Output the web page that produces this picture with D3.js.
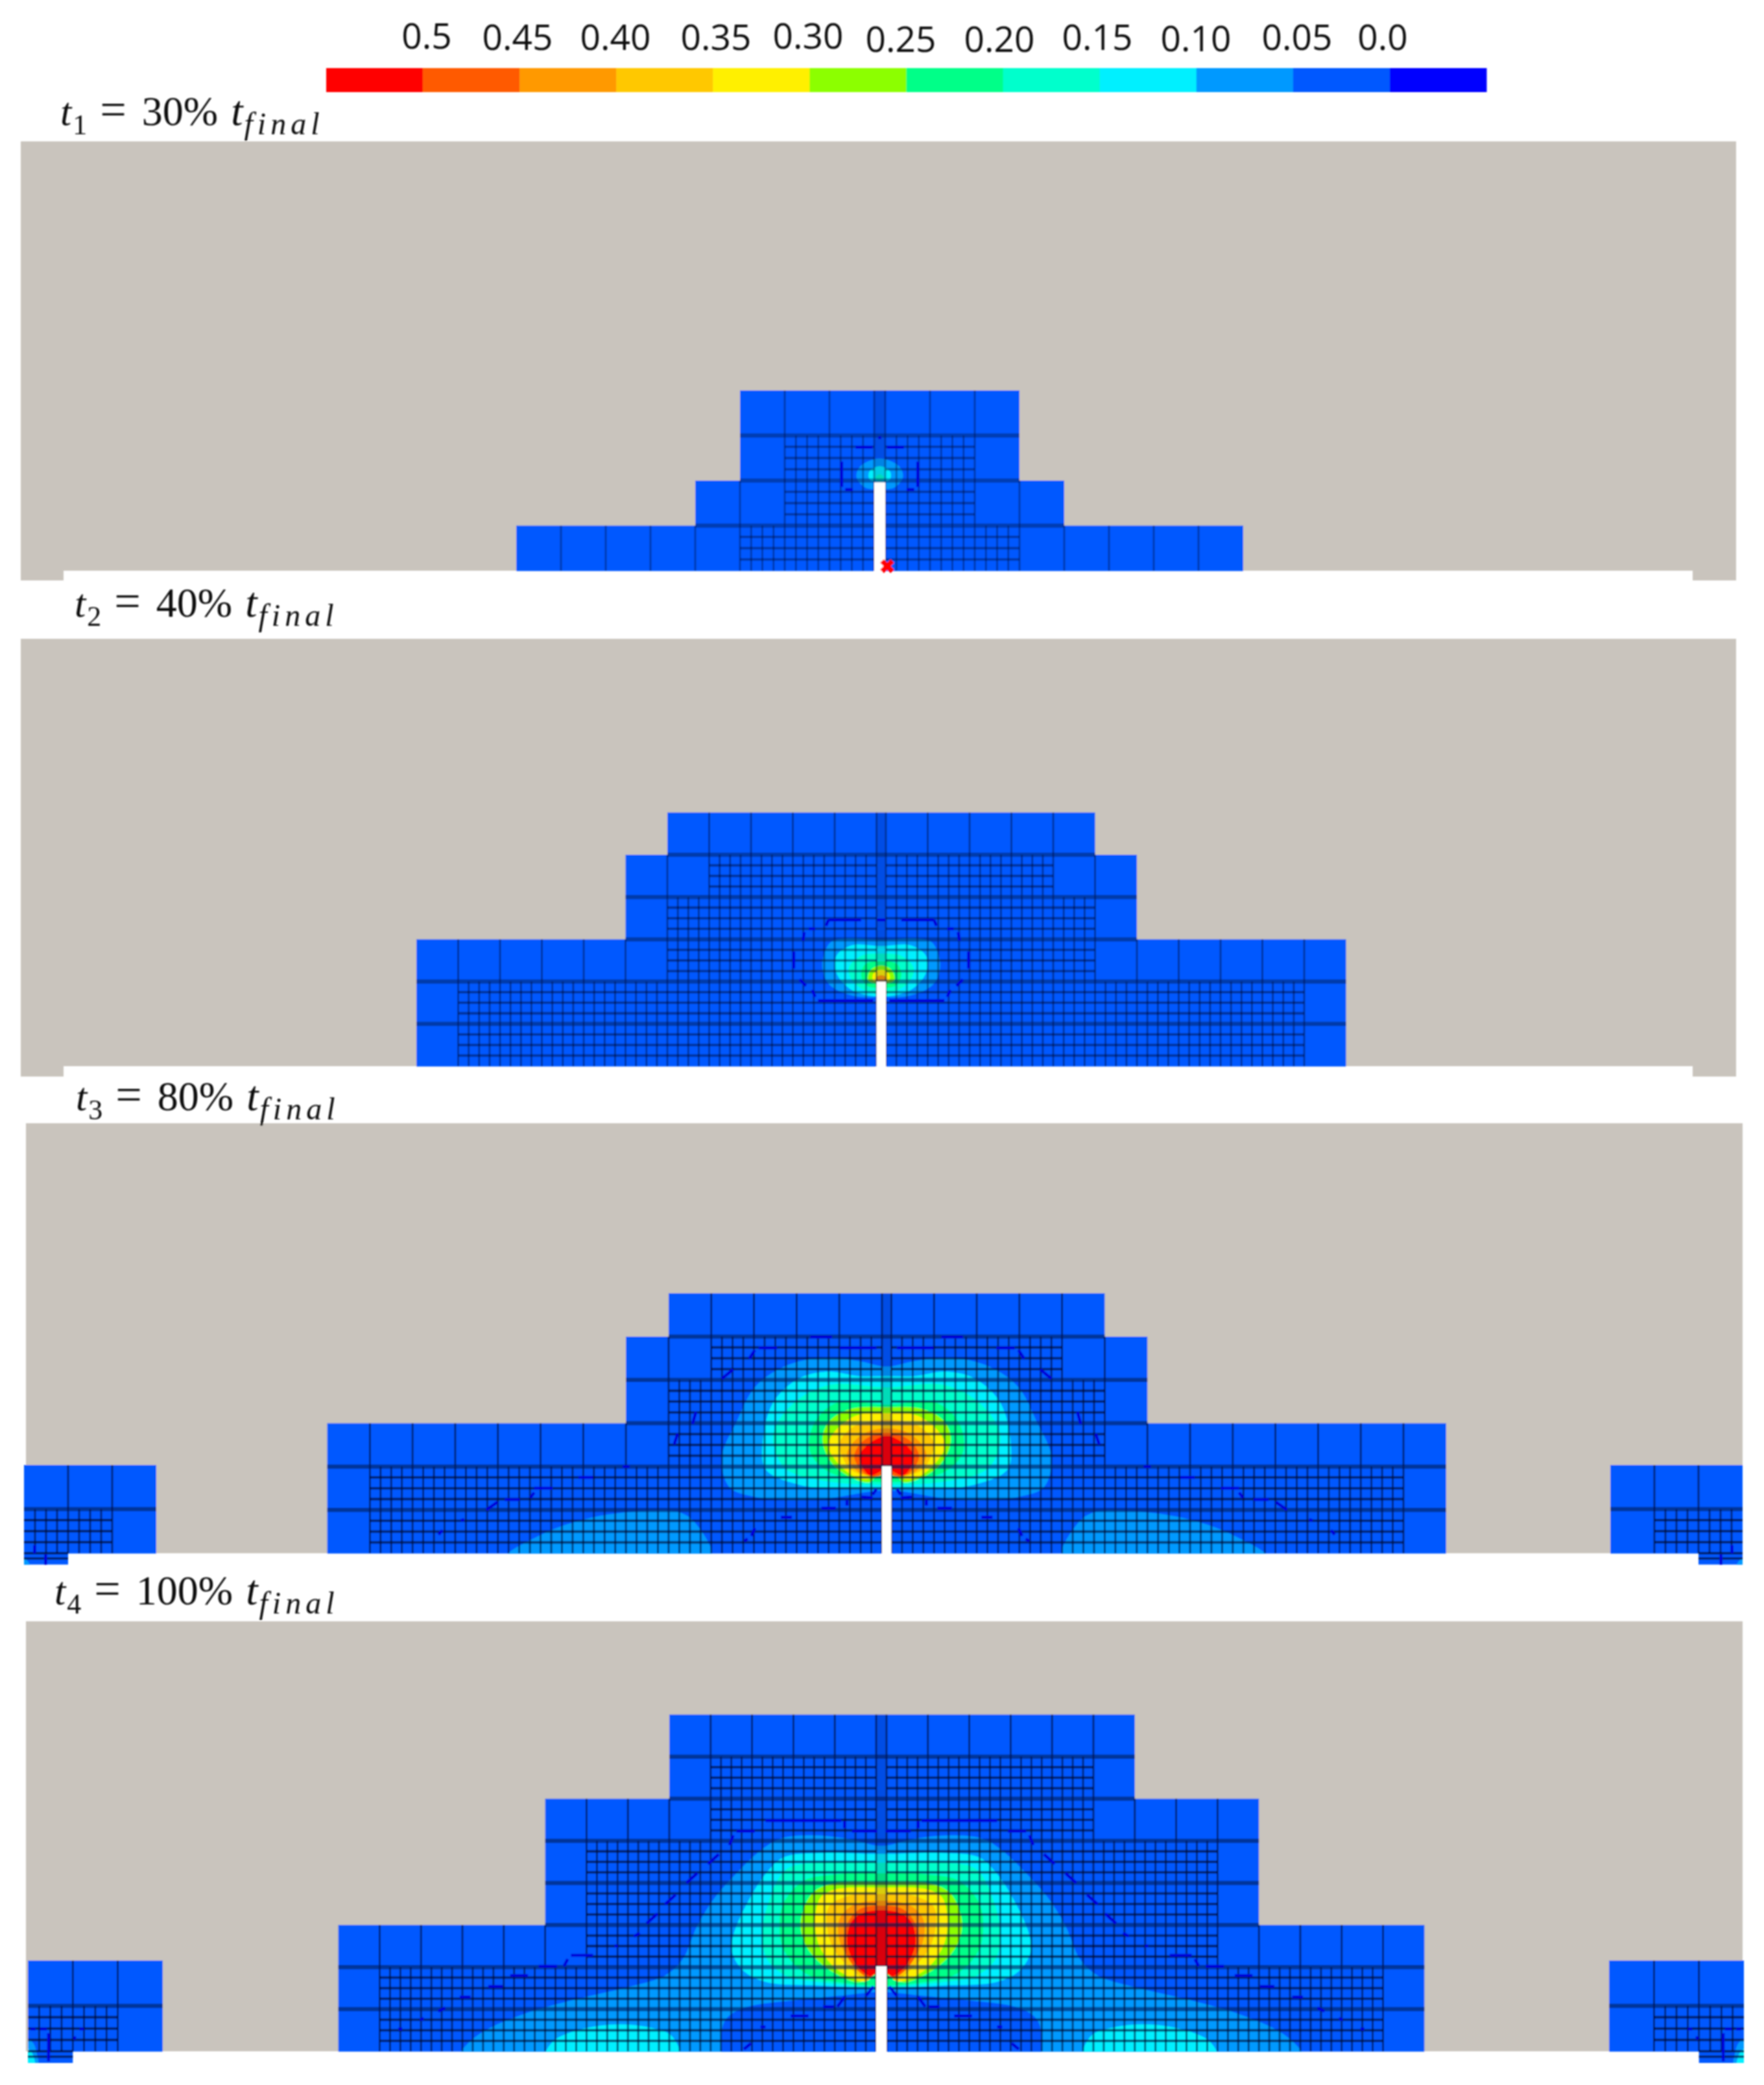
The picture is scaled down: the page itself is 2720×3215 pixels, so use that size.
<!DOCTYPE html>
<html>
<head>
<meta charset="utf-8">
<script src="https://cdn.jsdelivr.net/npm/d3@7/dist/d3.min.js"></script>
<style>
    html, body { margin: 0; padding: 0; background: #fff; }
    svg { display: block; }
</style>
</head>
<body>
<div id="chart"></div>
<script>
// legend
var legendLabels = ['0.5', '0.45', '0.40', '0.35', '0.30', '0.25', '0.20', '0.15', '0.10', '0.05', '0.0'];
var bandColors = ['#ff0000', '#ff5a00', '#ff9900', '#ffc800', '#fff000', '#8cff00',
                  '#00ff88', '#00ffcc', '#00f0ff', '#0099ff', '#0059ff', '#0000ff'];

// time labels
var timeSubs = ['1', '2', '3', '4'];
var timePercents = ['30%', '40%', '80%', '100%'];

// mesh per panel, rows from the top: width in coarse cells and width of the refined part, each side of the crack
var outerLeft = [
    [3, 3, 4, 8],
    [5, 6, 6, 11, 11, 11],
    [5, 6, 6, 13, 13, 13],
    [5, 5, 8, 8, 8, 13, 13, 13]
];
var outerRight = [
    [3, 3, 4, 8],
    [5, 6, 6, 11, 11, 11],
    [5, 6, 6, 13, 13, 13],
    [6, 6, 9, 9, 9, 13, 13, 13]
];
var fineLeft = [
    [0, 2, 2, 3],
    [0, 4, 5, 5, 10, 10],
    [0, 4, 5, 5, 12, 12],
    [0, 4, 4, 7, 7, 7, 12, 12]
];
var fineRight = [
    [0, 2, 2, 3],
    [0, 4, 5, 5, 10, 10],
    [0, 4, 5, 5, 12, 12],
    [0, 5, 5, 8, 8, 8, 12, 12]
];

// contours: [band, right half outline] in cell units (across, above the bottom edge)
var contours1 = [
    [9, [[0, 2.49], [.43, 2.32], [.52, 2.08], [.32, 1.84], [0, 1.81]]],
    [8, [[0, 2.32], [.23, 2.2], [.23, 2.03], [0, 1.96]]],
    [7, [[0, 2.14], [.1, 2.06], [0, 1.98]]]
];
var contours2 = [
    [9, [[0, 2.99], [.85, 3.02], [1.22, 2.92], [1.41, 2.41], [1.26, 1.95], [.7, 1.67], [0, 1.63]]],
    [8, [[0, 2.84], [.7, 2.86], [1.07, 2.61], [1.07, 2.2], [.7, 1.8], [0, 1.65]]],
    [7, [[0, 2.66], [.48, 2.61], [.78, 2.31], [.63, 1.95], [0, 1.69]]],
    [6, [[0, 2.48], [.38, 2.41], [.48, 2.15], [.34, 1.9], [0, 1.85]]],
    [5, [[0, 2.38], [.26, 2.26], [.31, 2.03], [0, 1.95]]],
    [4, [[0, 2.28], [.19, 2.18], [.19, 2.03], [0, 1.97]]],
    [2, [[0, 2.15], [.12, 2.1], [.12, 2.03], [0, 1.99]]]
];
var contours3 = [
    [9, [[0, 4.31], [.67, 4.44], [1.53, 4.51], [2.4, 4.31], [3.09, 3.83], [3.52, 3.03], [3.86, 2.23], [3.69, 1.53], [3.09, 1.3], [1.71, 1.23], [.33, 1.43], [0, 1.45]]],
    [8, [[0, 4.09], [.67, 4.09], [1.36, 4.19], [2.05, 4.04], [2.66, 3.48], [2.91, 2.53], [2.83, 1.93], [2.05, 1.58], [.84, 1.48], [0, 1.48]]],
    [7, [[0, 3.83], [1.36, 3.88], [2.22, 3.43], [2.66, 2.73], [2.4, 1.98], [1.53, 1.68], [0, 1.58]]],
    [6, [[0, 3.43], [1.19, 3.46], [1.71, 2.98], [1.79, 2.33], [1.36, 1.88], [.33, 1.65], [0, 1.65]]],
    [5, [[0, 3.37], [.84, 3.33], [1.36, 3.03], [1.5, 2.58], [1.19, 1.98], [.41, 1.63], [.24, 1.78], [0, 1.83]]],
    [4, [[0, 3.23], [.76, 3.16], [1.28, 2.73], [1.36, 2.43], [.93, 1.88], [.5, 1.7], [.24, 1.78], [0, 1.83]]],
    [3, [[0, 3.08], [.76, 2.93], [1.1, 2.53], [.84, 1.93], [.33, 1.78], [0, 1.83]]],
    [2, [[0, 2.88], [.59, 2.73], [.93, 2.28], [.67, 1.88], [.24, 1.78], [0, 1.83]]],
    [1, [[0, 2.78], [.53, 2.61], [.76, 2.23], [.5, 1.83], [.24, 1.78], [0, 1.83]]],
    [0, [[0, 2.71], [.41, 2.53], [.64, 2.23], [.41, 1.8], [.16, 1.88], [0, 2.03]]]
];
var contours4 = [
    [9, [[0, 4.88], [.8, 5.05], [1.67, 5.13], [2.45, 5.05], [2.97, 4.73], [3.5, 4.23], [4.02, 3.66], [4.45, 2.98], [4.8, 2.19], [5.23, 1.8], [6.19, 1.51], [7.41, 1.23], [8.63, .89], [9.67, .44], [10.16, 0], [10.3, -.3], [0, -.3]]],
    [10, [[0, 1.41], [.9, 1.33], [1.93, 1.23], [3.35, 1.02], [3.79, .71], [3.86, 0], [3.86, -.5], [0, -.5]]],
    [8, [[0, 4.69], [1.48, 4.71], [2.36, 4.61], [2.77, 4.25], [3.24, 3.53], [3.59, 2.71], [3.59, 2.3], [3.31, 1.89], [2.77, 1.64], [1.48, 1.56], [.46, 1.51], [0, 1.48]]],
    [7, [[0, 4.48], [1.48, 4.48], [2.29, 4.33], [2.73, 3.53], [2.87, 2.82], [2.77, 2.2], [2.29, 1.79], [1.48, 1.64], [0, 1.53]]],
    [6, [[0, 4.23], [1.14, 4.2], [1.88, 4.05], [2.36, 3.53], [2.46, 3.02], [2.36, 2.41], [1.82, 1.84], [.8, 1.61], [0, 1.56]]],
    [5, [[0, 4.02], [1.2, 3.98], [1.68, 3.74], [1.95, 3.07], [1.82, 2.51], [1.34, 1.99], [.52, 1.64], [.29, 1.82], [0, 1.89]]],
    [4, [[0, 3.89], [1.14, 3.84], [1.48, 3.64], [1.6, 3.02], [1.48, 2.46], [1.07, 1.94], [.39, 1.66], [.22, 1.82], [0, 1.89]]],
    [3, [[0, 3.74], [.8, 3.69], [1.27, 3.43], [1.31, 2.92], [1.14, 2.41], [.66, 1.89], [.32, 1.69], [.22, 1.82], [0, 1.89]]],
    [2, [[0, 3.58], [.66, 3.48], [1, 3.17], [1.03, 2.71], [.83, 2.25], [.46, 1.84], [.22, 1.82], [0, 1.89]]],
    [1, [[0, 3.46], [.52, 3.38], [.83, 3.02], [.9, 2.51], [.73, 2.1], [.32, 1.76], [0, 1.89]]],
    [0, [[0, 3.35], [.46, 3.28], [.73, 3.07], [.83, 2.61], [.73, 2.25], [.46, 1.89], [.25, 1.79], [0, 2]]]
];

// the two separate lobes along the bottom edge
var lobes3 = [
    [9, [[4.12, -.12], [4.47, .68], [4.81, .93], [5.5, .98], [6.88, .83], [8.09, .43], [8.95, -.12]]]
];
var lobes4 = [
    [8, [[4.89, -.2], [5.06, .36], [5.67, .58], [6.37, .64], [7.23, .53], [7.93, .24], [8.1, -.12]]]
];

// pieces of the zero contour, right half
var zeroLine1 = [
    [[0, 2.98], [0, 2.92]], [[.16, 2.74], [.54, 2.74]], [[.85, 2.42], [.85, 1.86]], [[.6, 1.8], [.77, 1.8]]
];
var zeroLine2 = [
    [[0, 3.46], [.1, 3.46]], [[.48, 3.46], [1.26, 3.46]], [[1.26, 3.46], [1.32, 3.32]], [[1.58, 3.25], [1.73, 3.25]],
    [[1.84, 3.17], [1.87, 2.97]], [[2.09, 2.71], [2.09, 2.31]], [[1.95, 2.05], [1.8, 1.9]], [[1.65, 1.8], [1.58, 1.64]],
    [[1.51, 1.55], [.19, 1.55]]
];
var zeroLine3 = [
    [[1.28, 4.99], [1.79, 4.99]], [[.24, 4.74], [1.1, 4.74]], [[2.57, 4.74], [3, 4.74]], [[3.09, 4.69], [3.22, 4.49]],
    [[3.6, 4.24], [3.86, 4.03]], [[4.47, 3.26], [4.55, 2.98]], [[4.9, 2.76], [4.98, 2.51]], [[6.02, 2], [6.19, 2]],
    [[6.88, 1.75], [7.22, 1.75]], [[7.83, 1.5], [8.26, 1.5]], [[8.26, 1.4], [8.35, 1.28]], [[8.6, 1.24], [8.95, 1.24]],
    [[9.12, 1.18], [9.38, 1]], [[9.9, .78], [9.98, .75]], [[10.41, .53], [10.5, .43]], [[.24, 1.48], [.33, 1.35]],
    [[.33, 1.28], [.59, 1.3]], [[.93, 1.23], [.93, 1.1]], [[1.19, 1.04], [1.53, 1.04]], [[2.22, .83], [2.48, .83]],
    [[3.09, .58], [3.17, .4]], [[3.26, .33], [3.34, .28]]
];
var zeroLine4 = [
    [[.97, 5.48], [2.8, 5.48]], [[.1, 5.23], [.71, 5.23]], [[.89, 5.47], [.89, 5.3]], [[3.06, 5.23], [3.5, 5.23]],
    [[3.58, 5.13], [3.67, 4.9]], [[3.93, 4.68], [4.19, 4.45]], [[4.45, 4.23], [4.71, 4]], [[4.97, 3.72], [5.23, 3.49]],
    [[5.41, 3.27], [5.67, 3.04]], [[5.84, 2.81], [5.98, 2.73]], [[6.37, 2.5], [6.45, 2.5]], [[6.97, 2.28], [7.5, 2.28]],
    [[7.58, 2.19], [7.67, 2.02]], [[7.84, 2.02], [8.28, 2.02]], [[8.54, 1.8], [8.97, 1.8]], [[9.15, 1.54], [9.5, 1.54]],
    [[9.93, 1.29], [10.19, 1.29]], [[10.54, 1.03], [10.71, .95]], [[11.06, .78], [11.15, .75]], [[11.58, .53], [11.67, .53]],
    [[.19, 1.54], [.37, 1.32]], [[.89, 1.29], [1.06, 1.06]], [[1.15, 1.06], [1.41, 1.06]], [[1.76, .84], [2.19, .84]],
    [[2.8, .58], [2.92, .58]], [[3.15, .19], [3.32, .05]]
];

// corner pieces, in foot cell units
var footContours3 = [[9, [[0, -.12], [.1, -.2], [.14, -.3], [0, -.3]]]];
var footContours4 = [
    [9, [[0, .26], [.12, .18], [.2, -.05], [.22, -.3], [0, -.3]]],
    [8, [[0, .05], [.1, -.05], [.15, -.3], [0, -.3]]]
];
var footZero3 = [[[.24, .18], [.24, 0]], [[.49, -.03], [.49, -.26]]];
var footZero4 = [[[.06, .49], [.17, .49]], [[.27, .49], [.42, .49]], [[1.15, .49], [1.25, .49]], [[.46, .4], [.46, -.22]], [[1.04, .33], [1.04, .26]]];

// crack tip height, in cells above the bottom edge
var crackTips = [1.96, 2.0, 2.01, 2.02];

// page layout
var W = 2720, H = 3215;
var panels = [
    { x0: 32, x1: 2677, top: 218, bottom: 880, cx: 1356.5, dx: 69, dy: 69.5, gap: 8.5, lineOp: .4, wideOp: .45,
      contours: contours1, lobes: [], zero: zeroLine1, notch: [98, 2610, 895], foot: null,
      label: [93, 193] },
    { x0: 32, x1: 2677, top: 985, bottom: 1644, cx: 1358.8, dx: 64.5, dy: 65.2, gap: 7.25, lineOp: .48, wideOp: .5,
      contours: contours2, lobes: [], zero: zeroLine2, notch: [98, 2610, 1660], foot: null,
      label: [115, 951] },
    { x0: 40, x1: 2687, top: 1732, bottom: 2395, cx: 1367.2, dx: 65.8, dy: 66.8, gap: 7.25, lineOp: .68, wideOp: .6,
      contours: contours3, lobes: lobes3, zero: zeroLine3, notch: null,
      foot: { left: 37, right: 2687, dx: 68, dy: 68, contours: footContours3, zero: footZero3 },
      label: [117, 1712] },
    { x0: 40, x1: 2687, top: 2500, bottom: 3163, cx: 1359, dx: 63.8, dy: 64.9, gap: 8, lineOp: .68, wideOp: .6,
      contours: contours4, lobes: lobes4, zero: zeroLine4, notch: null,
      foot: { left: 43, right: 2689, dx: 69.3, dy: 70, contours: footContours4, zero: footZero4 },
      label: [84, 2474] }
];
var legendX = [658, 798, 949, 1104, 1246, 1389, 1541, 1692, 1844, 2000, 2132];
var legendY = [75, 77, 77, 77, 75, 80, 80, 77, 79, 77, 77];

var grey = '#c9c4bd';
var baseBlue = bandColors[10];

var svg = d3.select('#chart').append('svg')
    .attr('width', W)
    .attr('height', H)
    .attr('viewBox', '0 0 ' + W + ' ' + H);
svg.append('rect').attr('width', W).attr('height', H).attr('fill', '#fff');

var defs = svg.append('defs');
defs.append('filter')
    .attr('id', 'soft')
    .attr('filterUnits', 'userSpaceOnUse')
    .attr('x', 0).attr('y', 0).attr('width', W).attr('height', H)
    .append('feGaussianBlur')
    .attr('stdDeviation', 1.1);

var root = svg.append('g').attr('filter', 'url(#soft)');

// colour bar
var legendScale = d3.scaleBand()
    .domain(d3.range(bandColors.length))
    .range([503, 2292]);
root.append('g').selectAll('rect')
    .data(bandColors)
    .join('rect')
    .attr('x', function (d, i) { return legendScale(i); })
    .attr('y', 105)
    .attr('width', legendScale.bandwidth() + 0.5)
    .attr('height', 37)
    .attr('fill', function (d) { return d; });
root.append('g').selectAll('text')
    .data(legendLabels)
    .join('text')
    .attr('x', function (d, i) { return legendX[i]; })
    .attr('y', function (d, i) { return legendY[i]; })
    .attr('text-anchor', 'middle')
    .attr('font-family', '"Open Sans", sans-serif')
    .attr('font-size', 55)
    .attr('fill', '#111')
    .text(function (d) { return d; });

panels.forEach(function (p, idx) {
    var g = root.append('g');
    var n = outerLeft[idx].length;

    // scales from cell units to pixels
    var x = d3.scaleLinear().domain([0, 1]).range([p.cx, p.cx + p.dx]);
    var y = d3.scaleLinear().domain([0, 1]).range([p.bottom, p.bottom - p.dy]);
    // mesh edges sit on each side of the thin centre column
    var mx = function (c, side) { return side > 0 ? x(c) + p.gap : x(-c) - p.gap; };

    // specimen
    g.append('rect')
        .attr('x', p.x0).attr('y', p.top)
        .attr('width', p.x1 - p.x0).attr('height', p.bottom - p.top)
        .attr('fill', grey);
    if (p.notch) {
        g.append('rect').attr('x', p.x0).attr('y', p.bottom - 1)
            .attr('width', p.notch[0] - p.x0).attr('height', p.notch[2] - p.bottom + 1).attr('fill', grey);
        g.append('rect').attr('x', p.notch[1]).attr('y', p.bottom - 1)
            .attr('width', p.x1 - p.notch[1]).attr('height', p.notch[2] - p.bottom + 1).attr('fill', grey);
    }

    // blocks of active elements
    var blocks = outerLeft[idx].map(function (o, i) {
        var a = mx(o, -1), b = mx(outerRight[idx][i], 1);
        return { x: a, w: b - a, y: y(n - i), h: y(n - i - 1) - y(n - i) };
    });
    var footScales = [];
    if (p.foot) {
        var f = p.foot;
        [-1, 1].forEach(function (side) {
            var fx = d3.scaleLinear().domain([0, 1])
                .range(side < 0 ? [f.left, f.left + f.dx] : [f.right, f.right - f.dx]);
            var fy = d3.scaleLinear().domain([0, 1]).range([p.bottom, p.bottom - f.dy]);
            footScales.push({ x: fx, y: fy });
            var a = Math.min(fx(0), fx(3)), b = Math.max(fx(0), fx(3));
            blocks.push({ x: a, w: b - a, y: fy(2), h: fy(0) - fy(2) });
            a = Math.min(fx(0), fx(1)); b = Math.max(fx(0), fx(1));
            blocks.push({ x: a, w: b - a, y: fy(0), h: fy(-0.25) - fy(0) });
        });
    }

    var clipId = 'mesh' + idx;
    defs.append('clipPath').attr('id', clipId).selectAll('rect')
        .data(blocks)
        .join('rect')
        .attr('x', function (d) { return d.x; })
        .attr('y', function (d) { return d.y; })
        .attr('width', function (d) { return d.w; })
        .attr('height', function (d) { return d.h + 0.5; });

    g.append('g').selectAll('rect')
        .data(blocks)
        .join('rect')
        .attr('x', function (d) { return d.x; })
        .attr('y', function (d) { return d.y; })
        .attr('width', function (d) { return d.w; })
        .attr('height', function (d) { return d.h + 0.5; })
        .attr('fill', baseBlue);

    // filled contour bands, mirrored about the crack
    var contourG = g.append('g').attr('clip-path', 'url(#' + clipId + ')');
    var outline = d3.line().curve(d3.curveCatmullRomClosed.alpha(0.5));
    function mirrored(pts) {
        var back = pts.filter(function (d) { return d[0] !== 0; })
            .map(function (d) { return [-d[0], d[1]]; })
            .reverse();
        return pts.concat(back);
    }
    p.contours.forEach(function (c) {
        contourG.append('path')
            .attr('d', outline(mirrored(c[1]).map(function (d) { return [x(d[0]), y(d[1])]; })))
            .attr('fill', bandColors[c[0]]);
    });
    p.lobes.forEach(function (c) {
        [1, -1].forEach(function (s) {
            contourG.append('path')
                .attr('d', outline(c[1].map(function (d) { return [x(s * d[0]), y(d[1])]; })))
                .attr('fill', bandColors[c[0]]);
        });
    });
    footScales.forEach(function (s) {
        p.foot.contours.forEach(function (c) {
            contourG.append('path')
                .attr('d', outline(c[1].map(function (d) { return [s.x(d[0]), s.y(d[1])]; })))
                .attr('fill', bandColors[c[0]]);
        });
    });

    // mesh lines
    var thin = [], heavy = [], wide = [];
    outerLeft[idx].forEach(function (ol, i) {
        var y0 = y(n - i), y1 = y(n - i - 1);
        [-1, 1].forEach(function (side) {
            var o = side < 0 ? ol : outerRight[idx][i];
            var fine = side < 0 ? fineLeft[idx][i] : fineRight[idx][i];
            var c, k;
            for (c = 0; c < o; c++) {
                thin.push([mx(c, side), y0, mx(c, side), y1]);
            }
            for (k = 1; k < fine * 4; k++) {
                if (k % 4 !== 0) thin.push([mx(k / 4, side), y0, mx(k / 4, side), y1]);
            }
            if (fine > 0) {
                for (k = 1; k < 4; k++) {
                    var yy = y(n - i - k / 4);
                    heavy.push([mx(0, side), yy, mx(fine, side), yy]);
                }
            }
        });
        if (i > 0) {
            wide.push([mx(Math.min(ol, outerLeft[idx][i - 1]), -1), y0,
                       mx(Math.min(outerRight[idx][i], outerRight[idx][i - 1]), 1), y0]);
        }
    });
    // foot meshes
    footScales.forEach(function (s) {
        var c, k;
        for (c = 1; c < 3; c++) thin.push([s.x(c), s.y(2), s.x(c), s.y(0)]);
        for (k = 1; k < 8; k++) {
            if (k % 4 !== 0) thin.push([s.x(k / 4), s.y(1), s.x(k / 4), s.y(0)]);
        }
        for (k = 1; k < 4; k++) heavy.push([s.x(0), s.y(k / 4), s.x(2), s.y(k / 4)]);
        wide.push([s.x(0), s.y(1), s.x(3), s.y(1)]);
        heavy.push([s.x(0), s.y(0), s.x(1), s.y(0)]);
        heavy.push([s.x(0), s.y(-0.12), s.x(1), s.y(-0.12)]);
    });

    function drawLines(list, width, color, op) {
        g.append('g').selectAll('line')
            .data(list)
            .join('line')
            .attr('x1', function (d) { return d[0]; })
            .attr('y1', function (d) { return d[1]; })
            .attr('x2', function (d) { return d[2]; })
            .attr('y2', function (d) { return d[3]; })
            .attr('stroke', color)
            .attr('stroke-width', width)
            .attr('stroke-opacity', op);
    }

    // darker centre column above the crack
    g.append('rect')
        .attr('x', mx(0, -1)).attr('y', y(n))
        .attr('width', p.gap * 2).attr('height', y(crackTips[idx]) - y(n))
        .attr('fill', '#001050').attr('opacity', 0.15);

    drawLines(thin, 2.8, '#000a30', p.lineOp);
    drawLines(heavy, 3.8, '#000a30', p.lineOp);
    drawLines(wide, 6.5, '#001c58', p.wideOp);

    // zero contour fragments
    var zeroG = g.append('g').attr('fill', 'none').attr('stroke', '#0000d8').attr('stroke-width', 4.5);
    p.zero.forEach(function (seg) {
        [1, -1].forEach(function (s) {
            zeroG.append('line')
                .attr('x1', x(s * seg[0][0])).attr('y1', y(seg[0][1]))
                .attr('x2', x(s * seg[1][0])).attr('y2', y(seg[1][1]));
        });
    });
    footScales.forEach(function (s) {
        p.foot.zero.forEach(function (seg) {
            zeroG.append('line')
                .attr('x1', s.x(seg[0][0])).attr('y1', s.y(seg[0][1]))
                .attr('x2', s.x(seg[1][0])).attr('y2', s.y(seg[1][1]));
        });
    });

    // crack
    g.append('rect')
        .attr('x', mx(0, -1)).attr('y', y(crackTips[idx]))
        .attr('width', p.gap * 2).attr('height', y(0) - y(crackTips[idx]) + 2)
        .attr('fill', '#fff');

    // time label
    var t = root.append('text')
        .attr('x', p.label[0]).attr('y', p.label[1])
        .attr('font-family', '"Liberation Serif", serif')
        .attr('font-size', 62)
        .attr('fill', '#111');
    t.append('tspan').attr('font-style', 'italic').text('t');
    t.append('tspan').attr('font-size', 44).attr('dy', 14).attr('dx', 2).text(timeSubs[idx]);
    t.append('tspan').attr('dy', -14).attr('dx', 20).attr('font-size', 72).text('=');
    t.append('tspan').attr('dx', 24).attr('font-size', 64).text(timePercents[idx]);
    t.append('tspan').attr('font-style', 'italic').attr('dx', 20).attr('font-size', 66).text('t');
    t.append('tspan').attr('font-style', 'italic').attr('font-size', 48).attr('letter-spacing', 7)
        .attr('dy', 14).attr('dx', 2).text('final');
});

// failure point of the first step
root.append('path')
    .attr('d', d3.symbol().type(d3.symbolX).size(170)())
    .attr('transform', 'translate(1368,873)')
    .attr('fill', 'none')
    .attr('stroke', '#ff0000')
    .attr('stroke-width', 8);
</script>
</body>
</html>
